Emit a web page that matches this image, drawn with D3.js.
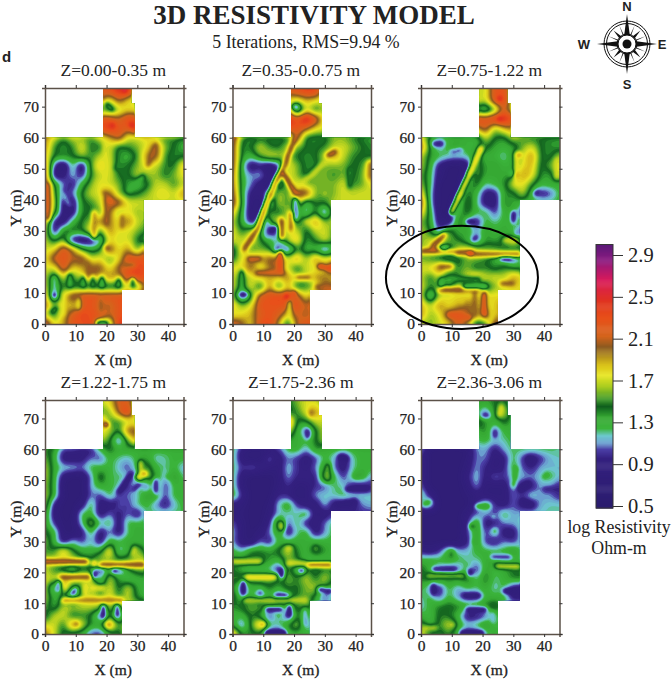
<!DOCTYPE html>
<html>
<head>
<meta charset="utf-8">
<script src="https://cdn.jsdelivr.net/npm/d3@7"></script>
<style>
body { margin: 0; background: #fff; }
text { font-family: "Liberation Serif", serif; fill: #222; }
</style>
</head>
<body>
<div id="viz"></div>
<script>
// log resistivity on a 3 m grid. rows run from y=75 down to y=0
// y 75-63: x=18..30, y 60-42: x=0..45, y 39-12: x=0..33, y 9-0: x=0..27
const z1 = [
 [2.2,2.3,2.5,2.5,1.8],[2.1,1.7,2.1,1.8,1.7],[1.5,1.35,1.65,1.8,1.75],[2.3,2.3,2.1,2.4,2.3],[2.3,2.5,2.3,2.2,2.6],
 [2.0,1.7,1.5,1.7,1.6,1.5,1.75,1.9,2.2,1.7,1.7,1.8,1.6,1.5,1.5,1.4],
 [2.0,1.5,1.35,1.5,1.8,1.45,1.45,1.75,1.4,1.5,1.6,1.75,2.15,1.6,1.45,1.3],
 [1.9,1.45,1.45,1.45,1.65,1.5,1.7,1.75,1.35,1.3,1.5,2.0,2.15,1.5,1.4,1.45],
 [2.1,1.0,0.7,1.3,0.75,1.55,1.9,1.75,1.4,1.45,1.6,1.8,1.7,1.5,1.45,1.9],
 [2.2,0.8,0.9,1.2,0.9,1.5,1.7,1.75,1.45,1.45,1.7,1.6,1.65,1.45,1.6,1.8],
 [2.2,1.45,1.1,0.9,1.35,1.6,1.8,1.7,1.6,1.35,1.25,1.4,1.7,1.7,1.5,1.7],
 [2.2,1.6,0.9,1.1,1.5,1.7,1.75,2.1,1.6,1.4,1.45,1.6,1.75,1.8,1.7,2.0],
 [2.2,1.7,0.85,0.8,1.45,1.5,1.7,2.2,2.2,1.75,1.75,1.7],
 [2.1,1.6,0.85,0.85,1.45,1.45,1.55,2.1,1.5,1.8,1.6,1.7],
 [1.9,0.9,0.8,1.3,1.5,1.6,2.1,2.0,1.75,2.05,1.7,1.6],
 [1.8,0.8,1.5,1.5,1.45,1.9,1.5,2.0,1.75,1.75,1.6,1.5],
 [1.7,1.4,1.6,0.8,0.75,0.8,1.15,1.8,1.7,1.75,1.45,1.3],
 [1.7,1.8,2.3,2.0,1.5,1.35,1.45,2.2,1.75,2.0,1.5,2.1],
 [1.75,2.2,2.3,2.1,2.2,1.7,1.8,1.5,1.8,2.3,2.3,2.3],
 [1.75,1.7,2.3,1.8,1.9,2.1,2.1,1.75,2.1,2.3,2.4,2.3],
 [1.7,1.3,1.7,1.5,1.7,2.1,1.8,2.0,1.9,2.3,2.4,2.3],
 [1.75,1.25,1.5,1.4,1.35,1.4,1.3,1.35,1.3,1.7,1.4,2.2],
 [2.0,0.9,1.8,2.2,2.3,2.3,2.3,2.3,2.3,2.3],
 [2.1,1.6,2.0,1.75,2.2,2.3,2.1,2.05,2.3,2.3],
 [1.7,1.4,1.9,2.2,2.4,2.3,2.3,2.1,2.3,2.3],
 [2.4,1.8,1.9,2.3,2.3,2.4,1.7,1.5,2.5,2.4]
];
const z2 = [
 [2.2,2.3,2.4,2.4,1.8],[1.8,1.7,1.9,1.8,1.7],[2.0,0.95,1.75,1.4,1.7],[2.6,2.3,2.7,2.3,1.7],[2.3,2.3,2.1,1.8,1.75],
 [2.3,1.5,1.35,1.4,1.4,1.4,1.4,2.2,1.4,1.4,1.4,1.6,1.6,1.5,1.4,1.35],
 [2.2,1.4,1.45,1.75,1.5,1.45,1.7,1.6,1.45,1.45,1.5,1.7,1.75,1.6,1.5,1.4],
 [2.2,1.4,1.3,1.55,1.75,1.7,1.6,1.45,1.4,1.45,1.7,2.0,1.7,1.5,1.45,1.45],
 [2.2,1.3,0.8,0.9,0.75,1.0,1.8,1.6,1.4,1.4,1.6,1.6,1.6,1.45,1.5,1.9],
 [2.1,1.3,1.1,1.2,0.8,1.0,1.8,1.6,1.4,1.6,1.6,1.5,1.6,1.45,1.55,2.0],
 [2.1,1.35,1.1,0.85,0.8,1.3,1.6,1.8,1.6,1.6,1.6,1.6,1.75,1.5,1.55,1.8],
 [2.2,1.35,0.9,0.9,1.2,1.7,1.5,2.2,2.2,1.6,1.55,1.6,1.75,1.7,1.75,1.7],
 [2.3,1.4,0.85,0.8,1.1,1.7,1.5,1.8,1.2,1.5,1.5,1.7],
 [1.9,1.35,0.8,0.85,1.6,1.4,1.7,1.4,1.1,1.5,0.9,1.7],
 [1.7,1.35,0.85,1.2,1.5,1.8,1.6,1.4,1.7,2.0,1.6,1.7],
 [1.8,1.45,1.7,1.4,0.85,1.0,1.8,1.7,1.4,1.7,1.75,1.5],
 [1.75,1.7,1.8,1.5,1.3,1.15,1.7,1.9,1.35,1.5,1.75,1.5],
 [1.3,1.8,1.5,1.6,1.5,1.0,0.9,1.5,1.3,1.3,0.9,1.3],
 [1.4,1.75,2.0,1.9,2.1,2.1,1.75,2.0,1.6,2.0,1.8,1.8],
 [1.8,1.8,2.1,1.7,2.0,2.1,1.7,1.4,1.75,1.7,1.8,2.5],
 [1.7,1.5,1.7,1.9,1.9,1.9,2.0,1.7,1.6,2.0,2.0,1.8],
 [1.75,1.4,1.8,1.3,2.0,1.35,1.9,1.4,1.5,1.6,2.1,2.1],
 [1.7,0.9,1.4,2.2,2.3,2.4,2.3,2.2,1.75,2.2],
 [1.9,1.6,1.75,2.3,2.3,2.3,2.3,2.3,2.1,2.3],
 [1.7,1.8,1.9,2.2,2.3,2.2,1.8,2.2,2.0,2.3],
 [2.3,2.1,1.8,2.3,2.4,1.9,1.3,2.1,2.3,2.3]
];
const z3 = [
 [1.7,1.7,2.3,2.3,1.8],[1.8,1.7,2.3,2.4,1.7],[1.3,1.1,1.5,2.2,1.7],[2.4,2.3,2.5,2.6,2.3],[1.9,2.2,1.6,1.9,2.0],
 [1.8,1.35,1.1,1.3,1.3,1.3,1.3,1.7,1.45,1.4,1.7,1.5,1.45,1.45,1.4,1.4],
 [2.1,1.4,1.1,1.35,1.4,1.3,1.3,1.5,1.35,1.3,1.35,1.6,1.75,1.45,1.4,1.35],
 [1.7,1.4,1.3,1.2,1.15,1.2,1.5,1.3,1.3,1.15,1.4,1.7,2.0,1.45,1.4,1.7],
 [1.7,1.35,0.9,0.75,0.75,0.8,1.6,1.35,1.4,1.3,1.3,1.8,1.9,1.4,1.6,1.75],
 [1.6,1.3,0.85,0.75,0.75,0.9,1.6,1.35,1.35,1.35,1.4,2.0,1.8,1.4,1.35,1.75],
 [1.65,1.3,0.75,0.75,0.75,1.3,1.5,1.2,1.3,1.4,1.75,1.8,1.5,1.3,1.35,1.3],
 [1.9,1.2,0.75,0.75,0.8,1.5,1.3,0.9,0.9,1.4,1.4,1.7,1.3,0.9,1.0,1.3],
 [2.2,1.2,0.75,0.75,1.1,1.6,1.25,0.85,0.85,1.45,1.35,1.3],
 [1.9,1.35,0.75,0.75,1.3,1.5,1.3,1.3,1.0,1.3,1.4,0.9],
 [1.6,1.4,0.85,0.75,1.5,1.3,0.85,1.3,1.2,1.3,1.35,1.3],
 [1.7,1.45,1.0,1.6,1.3,1.4,1.1,1.4,1.3,1.35,1.2,0.95],
 [1.6,1.7,1.8,1.6,1.5,1.3,1.0,1.4,1.35,1.45,1.75,1.4],
 [1.6,1.8,1.7,1.3,1.7,1.8,1.7,1.6,1.6,1.5,1.5,1.5],
 [1.6,1.5,1.4,1.4,1.4,1.6,1.6,1.5,1.3,1.3,0.9,1.3],
 [1.75,1.8,2.1,1.75,1.5,1.6,1.4,1.5,1.4,1.5,1.45,1.4],
 [1.7,1.45,1.7,1.3,1.5,1.75,2.0,1.7,1.75,1.7,2.0,1.8],
 [1.75,1.5,1.6,1.3,1.7,1.5,1.2,1.35,1.6,1.7,1.8,1.8],
 [1.8,1.0,1.7,1.8,1.8,1.8,1.8,1.8,1.8,1.8],
 [1.9,1.7,2.0,1.75,1.9,2.05,1.9,1.8,1.8,2.1],
 [2.0,1.6,1.75,2.2,2.3,2.1,1.9,2.2,1.8,2.0],
 [1.6,1.6,1.7,1.8,2.2,2.0,1.3,1.4,2.3,1.8]
];
const z4 = [
 [1.7,1.8,2.2,2.2,1.6],[1.5,1.6,2.1,2.4,1.7],[2.2,1.5,1.5,1.7,1.7],[1.8,1.7,1.45,2.1,2.1],[1.7,1.5,0.95,1.6,2.0],
 [1.5,1.4,1.0,1.0,0.9,0.9,1.3,1.5,1.35,1.35,1.3,1.3,1.3,1.3,1.3,1.3],
 [1.6,1.35,0.85,0.85,0.9,1.1,1.0,1.3,1.2,1.15,1.3,1.4,1.15,1.2,1.3,1.3],
 [1.7,1.35,1.2,1.2,1.1,1.3,1.3,1.3,1.15,1.0,1.3,1.6,1.3,1.2,1.3,1.1],
 [1.7,1.35,0.85,0.75,0.75,1.1,1.6,1.25,1.25,1.2,0.9,1.7,1.4,1.1,1.45,1.2],
 [1.65,1.35,0.75,0.75,0.75,1.15,1.35,1.3,1.2,0.9,1.4,0.9,1.5,0.95,1.3,1.3],
 [1.7,1.35,0.8,0.75,0.75,1.1,1.0,1.3,1.0,1.1,1.15,1.45,1.4,1.0,1.3,1.3],
 [1.7,0.9,0.75,0.75,0.85,1.35,0.85,0.85,1.1,1.0,1.25,1.3,1.1,0.9,1.15,1.3],
 [1.5,0.85,0.75,0.75,1.3,1.3,0.85,1.1,0.9,1.1,0.85,1.25],
 [1.45,1.0,0.75,0.8,1.2,1.75,1.2,1.35,0.85,1.3,1.3,1.3],
 [1.5,1.35,0.8,0.75,0.9,1.3,0.85,1.1,0.85,1.25,1.35,1.3],
 [1.65,1.3,0.85,1.2,1.0,1.2,0.85,1.35,1.3,1.35,1.3,1.3],
 [1.5,1.5,1.9,1.5,1.35,1.3,1.4,1.9,1.1,1.3,1.7,1.35],
 [1.7,1.7,1.7,1.7,1.5,1.5,1.7,1.6,1.6,1.6,1.7,1.7],
 [1.7,1.5,1.35,1.2,1.5,1.4,0.85,1.45,0.9,1.45,1.6,1.6],
 [1.75,1.7,1.9,1.8,1.7,1.8,1.1,1.7,1.4,1.2,1.3,1.35],
 [1.75,1.0,2.0,1.35,1.5,1.7,1.4,1.75,1.4,1.75,1.35,1.3],
 [1.7,1.3,1.4,0.9,1.6,1.75,1.6,1.8,1.5,1.7,1.4,1.3],
 [1.6,1.3,1.7,1.7,1.7,1.7,1.7,1.6,1.7,1.7],
 [1.35,1.7,1.75,1.4,1.5,1.45,0.95,1.5,0.95,1.8],
 [1.7,1.75,1.45,2.1,1.75,1.4,1.4,2.1,1.5,1.75],
 [2.1,1.7,1.4,1.3,1.3,1.0,0.95,1.3,1.4,1.75]
];
const z5 = [
 [1.45,1.6,1.75,1.75,1.5],[1.4,1.5,1.75,2.0,1.75],[2.2,1.4,1.45,1.7,1.7],[1.75,1.35,0.95,1.45,1.7],[1.4,1.3,1.3,1.45,1.7],
 [1.3,0.9,0.8,0.8,0.8,1.0,1.3,1.35,1.1,1.45,1.3,1.3,1.25,1.3,1.3,1.3],
 [1.3,0.85,0.8,0.8,1.1,0.85,1.1,1.0,0.85,1.0,1.3,1.15,0.8,1.2,1.3,1.3],
 [1.3,1.0,1.1,1.0,0.9,0.85,1.2,1.0,0.9,1.1,1.45,1.1,0.85,1.2,1.3,1.3],
 [1.3,0.85,0.75,0.75,0.75,0.85,1.15,0.95,1.0,0.9,1.75,1.3,1.0,1.3,1.45,1.1],
 [1.3,0.85,0.75,0.75,0.75,0.85,1.0,0.85,0.85,1.0,1.0,1.25,1.2,0.9,0.85,0.95],
 [1.4,1.0,0.75,0.75,0.75,1.0,0.95,0.8,0.85,1.15,1.2,1.2,1.3,1.2,1.2,1.2],
 [0.9,0.85,0.75,0.75,0.8,1.2,1.4,1.0,0.85,0.85,1.2,0.85,0.85,0.85,1.1,1.15],
 [0.85,0.8,0.75,0.75,0.85,1.15,1.2,1.2,1.4,0.85,0.85,1.0],
 [1.1,0.85,0.75,0.75,0.95,1.7,1.0,1.3,0.9,0.85,1.1,1.3],
 [1.2,0.85,0.75,0.85,1.1,1.45,0.85,1.2,1.35,0.85,1.1,1.3],
 [1.15,0.85,0.75,1.1,0.9,1.3,1.3,1.35,1.3,1.35,1.3,1.3],
 [1.3,1.15,1.45,1.45,1.4,1.5,1.75,1.4,1.3,1.6,1.4,1.3],
 [1.45,1.5,1.5,1.5,1.4,1.3,1.6,1.5,1.25,1.2,1.25,1.3],
 [1.45,1.3,1.2,1.2,1.2,0.85,1.6,1.2,1.5,1.4,1.5,1.5],
 [1.5,1.6,1.6,1.6,1.6,1.45,1.6,1.5,1.7,1.45,1.7,1.45],
 [1.5,0.95,1.3,1.3,1.45,1.35,1.5,1.45,1.6,1.7,1.45,1.3],
 [1.6,1.2,1.35,0.95,1.35,0.95,1.3,1.5,1.6,1.4,0.9,1.3],
 [1.4,1.5,1.6,1.6,1.6,1.6,1.5,1.5,1.6,1.3],
 [1.3,1.3,1.5,1.35,0.9,1.3,0.85,1.45,1.3,1.3],
 [1.4,1.0,1.5,2.0,1.3,1.2,1.45,1.7,1.1,1.3],
 [2.0,1.45,1.4,1.4,0.9,0.85,1.3,1.3,1.3,1.3]
];
const z6 = [
 [1.4,1.35,1.45,1.5,1.3],[1.3,1.0,1.45,1.75,1.3],[1.6,1.4,1.3,1.5,1.3],[1.3,1.45,1.0,1.3,1.3],[1.25,1.3,1.2,1.2,1.3],
 [1.15,0.75,0.75,0.75,0.75,0.75,1.1,1.15,0.9,1.15,1.25,1.25,1.25,1.25,1.25,1.2],
 [1.0,0.75,0.75,0.75,0.75,0.8,1.1,1.1,0.85,0.9,1.3,1.0,0.8,1.0,1.15,1.2],
 [1.0,0.75,0.75,0.75,0.75,0.85,1.15,0.95,0.85,0.95,1.35,1.05,0.95,1.15,1.15,1.15],
 [1.0,0.75,0.75,0.75,0.75,0.95,1.2,0.9,1.1,1.0,1.2,1.15,1.1,1.2,1.3,1.15],
 [1.1,0.75,0.75,0.75,0.75,0.85,1.15,0.85,0.85,0.85,1.15,0.85,0.9,1.15,1.1,0.95],
 [1.3,0.95,0.75,0.75,0.75,0.8,0.85,0.85,0.85,0.85,1.1,1.0,1.25,1.1,1.1,0.95],
 [1.1,1.3,0.75,0.75,0.75,0.75,1.0,1.35,1.0,0.85,1.1,0.85,0.85,1.15,1.2,1.2],
 [0.8,0.75,0.75,0.75,0.75,0.9,1.05,1.15,1.0,1.35,1.1,1.2],
 [0.75,0.75,0.75,0.75,0.75,0.95,1.5,0.85,0.95,1.1,1.15,1.2],
 [0.75,0.75,0.75,0.75,0.75,1.0,1.45,1.0,1.3,0.85,0.85,1.3],
 [0.75,0.75,0.75,0.75,0.75,0.9,1.45,1.0,0.9,1.1,1.0,1.2],
 [0.95,0.85,1.0,1.4,1.15,1.15,1.3,1.3,1.25,1.3,1.45,1.2],
 [1.3,1.35,1.3,1.4,1.3,1.2,1.2,1.3,1.45,1.3,1.25,1.25],
 [1.5,1.3,1.1,0.95,1.0,1.35,0.9,1.4,1.25,1.35,1.45,1.45],
 [1.45,1.5,1.5,1.45,1.45,1.5,1.2,1.5,1.2,1.3,1.45,1.45],
 [1.3,1.1,0.9,1.3,1.1,1.3,1.25,1.35,1.15,1.3,0.9,0.85],
 [1.2,1.3,1.0,1.3,1.1,0.9,0.9,1.3,1.3,1.3,0.85,0.9],
 [1.15,1.3,1.45,1.5,1.45,1.4,1.45,1.45,1.6,1.3],
 [1.3,1.25,1.5,1.45,1.3,0.85,0.85,1.0,1.3,1.2],
 [1.6,1.3,1.5,1.75,1.4,1.2,1.3,1.45,1.25,1.3],
 [1.8,1.5,1.4,1.5,1.3,0.85,0.9,1.2,1.3,1.3]
];

// narrow features too thin for the 3 m grid: x0, y0, x1, y1 in metres, then log resistivity
const streaks1 = [[0.8,45,0.8,34,2.2],[36,58,33.5,51,2.1],[16,36,16,28,2.0],[20,42,20,32,2.1],[26,75,26,75,2.75],[28,64,28,64,2.75],[22,64,22,64,2.7],
 [19.5,59,19.5,47,1.75],[27,43,32,47.5,1.3],[23,50,25,55,1.4],[6,42,8,38,1.15],[21,40,21,40,2.3],[19,42.5,19,42.5,2.1],[25,35,25,31,2.05],[20,24.5,20,24.5,2.3],
 [8,16,8,12,1.3],[12.5,15,12.5,12,1.3],[15.5,15,15.5,12,1.35],[18.5,15,18.5,12,1.25],[24,14.5,24,12,1.3],[28.5,14.5,28.5,12,1.35],
 [14,20,14,15,2.05],[18,8,18,4,2.05],[26,19,29,19,2.0],[3,15,3,10,1.15],[3,9.5,3,9,0.8],[6,10,6,3,1.75],[11,8,11,5,1.75],[2,4,4,5,1.35],[17,0.5,20,0.5,1.3],[20,71,22,69,1.3]];
const streaks2 = [[3.7,23.9,8,30.3,2.2],[8,30.3,10.7,37.8,2.2],[10.7,37.8,13.9,45.4,2.15],[13.9,45.4,17.2,51.6,2.2],[17.2,51.6,18.8,56.1,2.2],[18.8,56.1,20.4,59.9,2.2],[16.1,49.1,20.4,42.2,2.25],[20.9,43.8,32.8,54.5,1.75],[31,54.3,33.5,55.5,2.2],[18.8,35.7,18.8,30.3,2.1],[15.9,33.5,15.9,28,2.2],[15.5,22.8,15.5,17.4,2.4],[8,16.3,16.6,16.3,2.2],[5.3,21,9,21,2.2],
 [12,30,14,31,0.85],[11.5,33,11,28,1.1],[20.4,40,20.4,34,0.95],[14,24,15,24,0.95],[24,33,25,33,1.75],[30,42,30,42,1.75],[18.7,7,18.7,3,1.75],[17.7,9,17.7,9,2.75],[20,10,20,10,2.6],
 [2.5,9.5,4.5,9.5,0.85],[3,17,3,11,1.3],[20,70,21,70,0.95],[38,50,38,44,1.4],[44.5,52,44.5,47,2.0],[21,15,25,15,2.1],[28,18.5,32,18,2.4],[27,12,31,12,2.1]];
const streaks3 = [[0.5,23.3,8,23.3,2.2],[9,23.3,17,23,2.2],[17,22.7,32,22.3,2.15],[16,22.5,16,22.5,2.75],[3.9,25,7.7,28.7,2.2],[19.6,56.7,9.8,35.7,1.95],[6,11,19,11,2.2],[17.6,9.9,17.6,2.4,2.05],[20.7,10,20.7,3,2.3],[25.5,72.5,25.5,72.5,2.75],[25.5,66,25.5,66,2.75],
 [22,41.5,22,41.5,0.85],[30,36,30,33,0.85],[31,29,31,29,0.9],[15,33,17,33,0.85],[17,27,18,28,0.9],[26,21,29,21,0.85],[6.5,24.5,8.5,24.5,1.0],[37,42,38,42.5,0.9],[29.5,48.5,29.5,48.5,0.9],
 [6,18.5,10,18.5,2.1],[26,13,30,13,2.1],[6.5,14.5,6.5,12,1.2],[7,14.5,19,14.5,1.35],[14,12,21,12,1.15],[27,27,31,27,1.75],[9,3,16,2,2.3],[13.5,7,13.5,7,1.8],[23,9,23,1,1.8],[31,55,31,45,1.8],[32,54.5,32,54.5,2.2],[31,48,31,48,2.1],[44,53,44,47,1.75],[4,58,7,58,0.9],[10,55.5,13,56,1.0]];
const streaks4 = [[0,23.3,13.5,23.3,2.25],[16,22.8,16,22.8,2.25],[18,22.3,32,22.3,2.2],[5,18.5,14.5,18.5,2.15],[6,10.8,25,10.8,2.05],[30,51,32.5,52,2.2],[20,68,20,68,2.75],[10.3,3.2,10.3,3.2,2.3],[25.7,72.5,25.7,72.5,2.3],
 [24,46,28,52,0.85],[29,47,31,49,0.85],[36,46,36,50,0.9],[22,41,23,43,0.95],[28.5,26,29,28,1.75],[16,20,16,18.5,0.85],[22,20.5,23,20.5,0.85],[9,13.5,10,14.5,0.85],[4.5,17,4.5,14,1.0],[18.8,9,18.8,5.5,0.85],[23.3,9,23.3,6,0.9],[20.6,3,20.6,3,2.1],[15,15,19,15,1.8],[13,16,13,13,1.8],[31,56,31,50,1.75],[40,51,40,51,1.45]];
const streaks5 = [[0.4,23.7,9,23.7,1.78],[18,22.8,24,22.8,1.78],[24.7,22.3,32,22.3,2.15],[4.7,18.5,14,18.5,1.9],[3.7,10.8,24,10.8,1.72],[10,3.2,10,3.2,2.1],
 [16,21,16,18.5,0.8],[9,13.5,9,13.5,0.85],[3.5,17,3.5,13,0.85],[14,12.5,18,12.5,0.9],[28,14.5,32,14,0.85],[22,20.5,23,20.5,0.85],[18.5,9,18.5,6,0.8],[11,8,16,8,0.85],[23.5,8,23.5,3,1.1],[11,0.5,17,0.5,0.8],
 [16,36,16,34,1.75],[27,28,27,28,1.65],[17.5,28,19,28,1.75],[31,55,31,50,1.6],[40,51,40,51,1.45],[35,57.5,37,57,0.75],[34,42,40,43,0.8],[37,47,44,47,0.85],[25.5,72.5,25.5,71,2.05],[24.3,64,24.3,66,0.9]];
const streaks6 = [[24.5,22,32,22,1.75],[2.3,18.8,13.6,18.8,1.65],
 [15.8,20.5,15.8,19.5,0.8],[4,21,11,21,0.9],[4,16,4,13,0.85],[14,12.5,19,12.5,0.85],[27,14,31,14,0.8],[23,25,29,25,0.95],[10.3,3,10.3,3,1.75],[15,8,21,8,0.85],[1,2,5,2,1.7],[23.4,7,23.4,4,1.15],[13,0.5,20,0.5,0.85],
 [18,41.5,22,41.5,1.4],[16.3,35,16.3,35,1.65],[24,33.5,24,33.5,1.45],[23.5,38,23.5,38,1.3],[17,30,17,30,1.4],[25.5,71,26,74,1.8],[20,71,22,71,0.95],[24,64,24,66,0.95],
 [31,54,30,48,1.35],[35,57,36,56,0.75],[32,47,35,49,0.8],[33,43,36,42,0.8],[40,51,41,52,1.35],[40,47,44,47,0.95],[1,42,3,43,1.35],[10,27,10,25,1.45]];

const depthLabels = ['Z=0.00-0.35 m', 'Z=0.35-0.0.75 m', 'Z=0.75-1.22 m', 'Z=1.22-1.75 m', 'Z=1.75-2.36 m', 'Z=2.36-3.06 m'];
const xTicks = [0, 10, 20, 30, 40];
const yTicks = [0, 10, 20, 30, 40, 50, 60, 70];
const barTicks = [0.5, 0.9, 1.3, 1.7, 2.1, 2.5, 2.9];
const stopValues = [0.48, 0.95, 1.04, 1.1, 1.17, 1.24, 1.35, 1.45, 1.52, 1.64, 1.75, 1.85, 2.02, 2.12, 2.3, 2.45, 2.66, 2.85, 3.0];
const stopColors = ['#2a1c6e', '#34207f', '#4b3fa6', '#6a9fd0', '#6ec9cf', '#3cb43c', '#35a832', '#0f5e1e', '#3f9a2a', '#a9cc20', '#e8e622', '#d8c01a', '#8c5a20', '#d4641c', '#e8501a', '#e0341e', '#d81a5a', '#8a1a80', '#5a1a78'];
// outline of the surveyed area in metres
const siteX = [0, 25, 25, 32, 32, 45, 45, 29, 29, 28, 28, 19, 19, 0];
const siteY = [0, 0, 11, 11, 40, 40, 60, 60, 71, 71, 76, 76, 60, 60];

const panels = [z1, z2, z3, z4, z5, z6];
const panelStreaks = [streaks1, streaks2, streaks3, streaks4, streaks5, streaks6];
const colLefts = [45, 232.5, 421];
const rowTops = [88, 400];
const rowHeights = [236, 234];
const plotW = 138.5;
const gridStep = 3, nx = 16, ny = 27;
const fine = 6;   // the contour grid is 0.5 m, so the blobs come out round and not as diamonds

const svg = d3.select('#viz').append('svg')
    .attr('width', 672)
    .attr('height', 679)
    .style('display', 'block');

const color = d3.scaleLinear().domain(stopValues).range(stopColors).clamp(true);
const thresholds = d3.range(0.5, 3.02, 0.03);

// short rows are padded with their nearest value, the clip path cuts them back to the site
function toGrid(rows, streaks) {
    const values = new Array(nx * ny);
    const all = [rows[0]].concat(rows);   // one row repeated above y=75 to reach the top edge
    all.forEach(function(row, r) {
        const j = ny - 1 - r;
        const start = row.length === 5 ? 6 : 0;
        for (let i = 0; i < nx; i++) {
            const k = Math.max(0, Math.min(row.length - 1, i - start));
            values[j * nx + i] = row[k];
        }
    });
    const fx = (nx - 1) * fine + 1, fy = (ny - 1) * fine + 1;
    const out = new Float64Array(fx * fy);
    for (let j = 0; j < fy; j++) {
        const gj = j / fine, j0 = Math.min(ny - 2, Math.floor(gj)), tj = gj - j0;
        for (let i = 0; i < fx; i++) {
            const gi = i / fine, i0 = Math.min(nx - 2, Math.floor(gi)), ti = gi - i0;
            out[j * fx + i] = (values[j0 * nx + i0] * (1 - ti) + values[j0 * nx + i0 + 1] * ti) * (1 - tj)
                + (values[(j0 + 1) * nx + i0] * (1 - ti) + values[(j0 + 1) * nx + i0 + 1] * ti) * tj;
        }
    }
    d3.blur2({data: out, width: fx, height: fy}, 1);
    // burn the thin features in, then soften so they fade through the colour ramp
    streaks.forEach(function(s) {
        const dx = s[2] - s[0], dy = s[3] - s[1], len2 = dx * dx + dy * dy;
        for (let j = 0; j < fy; j++) {
            for (let i = 0; i < fx; i++) {
                const px = i * gridStep / fine, py = j * gridStep / fine;
                const t = len2 ? Math.max(0, Math.min(1, ((px - s[0]) * dx + (py - s[1]) * dy) / len2)) : 0;
                const ex = px - s[0] - t * dx, ey = py - s[1] - t * dy;
                if (ex * ex + ey * ey < 0.5) out[j * fx + i] = s[4];
            }
        }
    });
    d3.blur2({data: out, width: fx, height: fy}, 0.6);
    return {data: out, fx: fx, fy: fy};
}

panels.forEach(function(rows, p) {
    const left = colLefts[p % 3],
        top = rowTops[Math.floor(p / 3)],
        height = rowHeights[Math.floor(p / 3)];

    const x = d3.scaleLinear().domain([0, 45]).range([0, plotW]);
    const y = d3.scaleLinear().domain([0, 76]).range([height, 0]);

    const g = svg.append('g').attr('transform', 'translate(' + left + ',' + top + ')');

    g.append('clipPath').attr('id', 'site' + p)
        .append('path')
        .attr('d', d3.line().x(function(d) { return x(d); }).y(function(d, i) { return y(siteY[i]); }).curve(d3.curveLinearClosed)(siteX));

    const path = d3.geoPath(d3.geoTransform({
        point: function(gx, gy) {
            this.stream.point(x((gx - 0.5) * gridStep / fine), y((gy - 0.5) * gridStep / fine));
        }
    }));

    const grid = toGrid(rows, panelStreaks[p]);
    const contours = d3.contours().size([grid.fx, grid.fy]).thresholds(thresholds)(Array.from(grid.data));

    const map = g.append('g').attr('clip-path', 'url(#site' + p + ')');
    map.append('rect').attr('width', plotW).attr('height', height).attr('fill', color(0.75));
    map.selectAll('path.band')
        .data(contours)
        .enter().append('path')
        .attr('class', 'band')
        .attr('d', path)
        .attr('fill', function(d) { return color(d.value); });

    // frame, ticks outward on all four sides
    const frame = [
        d3.axisLeft(y).tickValues(yTicks).tickSize(3).tickPadding(3),
        d3.axisBottom(x).tickValues(xTicks).tickSize(3).tickPadding(3),
        d3.axisRight(y).tickValues(yTicks).tickSize(3).tickFormat(''),
        d3.axisTop(x).tickValues(xTicks).tickSize(3).tickFormat('')
    ];
    const shifts = ['translate(0,0)', 'translate(0,' + height + ')', 'translate(' + plotW + ',0)', 'translate(0,0)'];
    frame.forEach(function(axis, i) {
        const a = g.append('g').attr('transform', shifts[i]).call(axis);
        a.select('.domain').attr('stroke', '#5b5148').attr('stroke-width', 1.5);
        a.selectAll('.tick line').attr('stroke', '#333');
        a.selectAll('text').style('font-family', '"Liberation Serif", serif').style('font-size', '15.5px').attr('fill', '#222').attr('stroke', '#222').attr('stroke-width', 0.25);
    });

    g.append('text').attr('x', plotW / 2 - 1).attr('y', -12).attr('text-anchor', 'middle')
        .style('font-size', '17.5px').text(depthLabels[p]);
    g.append('text').attr('x', plotW / 2 - 1).attr('y', height + 41).attr('text-anchor', 'middle')
        .style('font-size', '15.5px').attr('stroke', '#222').attr('stroke-width', 0.3).text('X (m)');
    g.append('text').attr('transform', 'translate(-24,' + (height / 2 + 2) + ') rotate(-90)').attr('text-anchor', 'middle')
        .style('font-size', '15.5px').attr('stroke', '#222').attr('stroke-width', 0.3).text('Y (m)');
});

// circled area on the third panel
const ringX = d3.scaleLinear().domain([0, 45]).range([colLefts[2], colLefts[2] + plotW]);
const ringY = d3.scaleLinear().domain([0, 76]).range([rowTops[0] + rowHeights[0], rowTops[0]]);
svg.append('ellipse')
    .attr('cx', ringX(13.3)).attr('cy', ringY(15))
    .attr('rx', ringX(24.7) - ringX(0)).attr('ry', ringY(0) - ringY(16.6))
    .attr('fill', 'none').attr('stroke', '#000').attr('stroke-width', 2);

// headings
svg.append('text').attr('x', 314).attr('y', 24).attr('text-anchor', 'middle')
    .style('font-size', '27px').style('font-weight', 'bold').text('3D RESISTIVITY MODEL');
svg.append('text').attr('x', 306).attr('y', 48).attr('text-anchor', 'middle')
    .style('font-size', '17.8px').text('5 Iterations, RMS=9.94 %');
svg.append('text').attr('x', 2).attr('y', 62)
    .style('font-family', '"Liberation Sans", sans-serif').style('font-size', '15px').style('font-weight', 'bold').text('d');

// colour bar
const barY = d3.scaleLinear().domain([0.5, 2.9]).range([506, 255]);
const barSteps = d3.range(0.48, 3.0, 0.01);
svg.append('g').selectAll('rect')
    .data(barSteps)
    .enter().append('rect')
    .attr('x', 596).attr('width', 17)
    .attr('y', function(d) { return barY(d + 0.01); })
    .attr('height', function(d) { return barY(d) - barY(d + 0.01) + 0.5; })
    .attr('fill', function(d) { return color(d); });
svg.append('rect').attr('x', 596).attr('y', barY(3.0)).attr('width', 17).attr('height', barY(0.48) - barY(3.0))
    .attr('fill', 'none').attr('stroke', '#333').attr('stroke-width', 1);
const barAxis = svg.append('g').attr('transform', 'translate(613,0)')
    .call(d3.axisRight(barY).tickValues(barTicks).tickSize(10).tickPadding(5).tickFormat(d3.format('.1f')));
barAxis.select('.domain').remove();
barAxis.selectAll('.tick line').attr('stroke', '#333');
barAxis.selectAll('text').style('font-family', '"Liberation Serif", serif').style('font-size', '20.5px').attr('fill', '#222');
svg.append('text').attr('x', 619).attr('y', 533).attr('text-anchor', 'middle').style('font-size', '17.8px').text('log Resistivity');
svg.append('text').attr('x', 619).attr('y', 554).attr('text-anchor', 'middle').style('font-size', '17.8px').text('Ohm-m');

// compass rose
const compassLetters = ['N', 'E', 'S', 'W'];
const longPoints = d3.range(0, 360, 90);
const midPoints = d3.range(45, 360, 90);
const spokes = d3.range(22.5, 360, 45);
const rose = svg.append('g').attr('transform', 'translate(627,44)');
function kite(angle, r, w) {
    const a = angle * Math.PI / 180, s = Math.sin(a), c = Math.cos(a), n = w;
    return 'M' + (r * s) + ',' + (-r * c) + 'L' + (n * c) + ',' + (n * s) + 'L' + (-n * c) + ',' + (-n * s) + 'Z';
}
rose.selectAll('circle.ring').data([23, 20.5, 10, 7]).enter().append('circle')
    .attr('r', function(d) { return d; }).attr('fill', 'none').attr('stroke', '#111').attr('stroke-width', 1);
rose.selectAll('path.spoke').data(spokes).enter().append('path').attr('d', function(d) { return kite(d, 20, 1); }).attr('fill', '#222');
rose.selectAll('path.mid').data(midPoints).enter().append('path').attr('d', function(d) { return kite(d, 19, 3); }).attr('fill', '#111');
rose.selectAll('path.long').data(longPoints).enter().append('path').attr('d', function(d) { return kite(d, 30, 4); }).attr('fill', '#111');
rose.append('circle').attr('r', 9).attr('fill', '#fff').attr('stroke', '#111');
rose.append('circle').attr('r', 4.5).attr('fill', '#111');
rose.selectAll('text').data(compassLetters).enter().append('text')
    .attr('x', function(d, i) { return [0, 35, 0, -43][i]; })
    .attr('y', function(d, i) { return [-33, 5, 45, 5][i]; })
    .attr('text-anchor', 'middle')
    .style('font-family', '"Liberation Sans", sans-serif').style('font-size', '13px').style('font-weight', 'bold')
    .text(function(d) { return d; });
</script>
</body>
</html>
